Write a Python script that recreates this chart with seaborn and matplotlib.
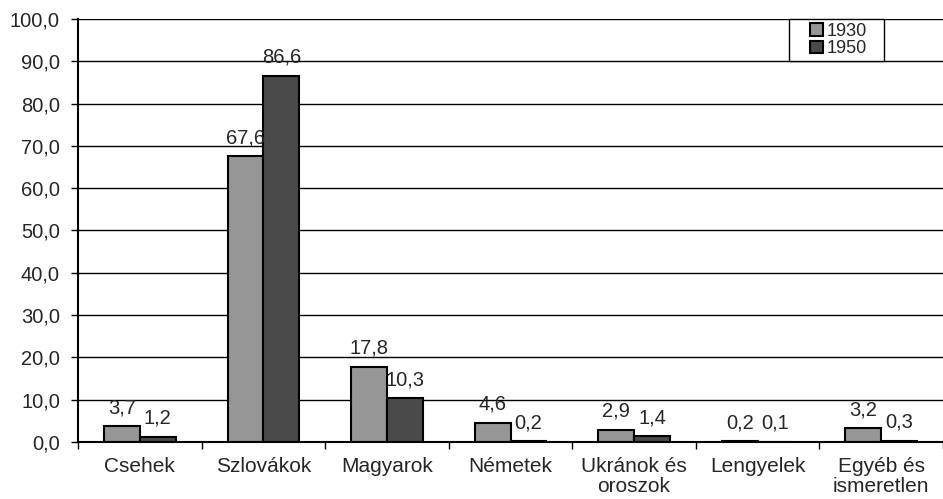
import pandas as pd
import matplotlib.pyplot as plt
import seaborn as sns
from matplotlib.ticker import FuncFormatter
from matplotlib.patches import Rectangle

categories = ['Csehek', 'Szlovákok', 'Magyarok', 'Németek',
              'Ukránok és\noroszok', 'Lengyelek', 'Egyéb és\nismeretlen']
values_1930 = [3.7, 67.6, 17.8, 4.6, 2.9, 0.2, 3.2]
values_1950 = [1.2, 86.6, 10.3, 0.2, 1.4, 0.1, 0.3]
years = ['1930', '1950']

df = pd.DataFrame({
    'cat': categories * 2,
    'year': [years[0]] * len(categories) + [years[1]] * len(categories),
    'val': values_1930 + values_1950,
})

sns.set_theme(style="white")
plt.rcParams['font.family'] = ['Liberation Sans', 'DejaVu Sans']

fig = plt.figure(figsize=(9.43, 4.99), dpi=100)
ax = fig.add_axes([78 / 943, 1 - 442 / 499, 865 / 943, 423 / 499])

ax = sns.barplot(data=df, x='cat', y='val', hue='year',
                 palette=['#969696', '#4a4a4a'], edgecolor='black',
                 linewidth=1.5, width=0.58, saturation=1, ax=ax)

for container in ax.containers:
    ax.bar_label(container, labels=[f'{v:.1f}'.replace('.', ',') for v in container.datavalues],
                 padding=6.5, fontsize=14.5, zorder=7)

ax.set_ylim(0, 100)
ax.set_yticks(range(0, 101, 10))
ax.yaxis.set_major_formatter(FuncFormatter(lambda v, p: f'{v:.1f}'.replace('.', ',')))
ax.yaxis.grid(True, color='black', linewidth=1)
ax.set_axisbelow(True)
ax.set_xlim(-0.5, len(categories) - 0.5)
ax.set_xlabel('')
ax.set_ylabel('')

# ticks between categories
ax.set_xticks([i - 0.5 for i in range(len(categories) + 1)], minor=True)
ax.tick_params(axis='x', which='minor', length=5, width=1, color='black', direction='out', bottom=True)
ax.tick_params(axis='x', which='major', length=0, labelsize=15, pad=11)
ax.tick_params(axis='y', length=5, width=1, color='black', direction='out', left=True,
               labelsize=14.5, pad=8)
for t in ax.get_xticklabels():
    t.set_linespacing(1.05)

for s in ['top', 'right']:
    ax.spines[s].set_visible(False)
for s in ['left', 'bottom']:
    ax.spines[s].set_color('black')
    ax.spines[s].set_linewidth(1.5)

# legend box
x0, x1 = (789 - 78) / 865, (884 - 78) / 865
y0 = (442 - 61) / 423
ax.add_patch(Rectangle((x0, y0), x1 - x0, 1 - y0, transform=ax.transAxes,
                       facecolor='white', edgecolor='black', linewidth=1,
                       zorder=5, clip_on=False))
leg = ax.legend(loc='center', bbox_to_anchor=((x0 + x1) / 2 + 0.002, (y0 + 1) / 2),
                fontsize=13, frameon=False,
                handlelength=0.7, handleheight=0.7, handletextpad=0.2,
                borderpad=0, labelspacing=0.05, borderaxespad=0)
leg.set_zorder(6)

fig.savefig('out.png', dpi=100)
